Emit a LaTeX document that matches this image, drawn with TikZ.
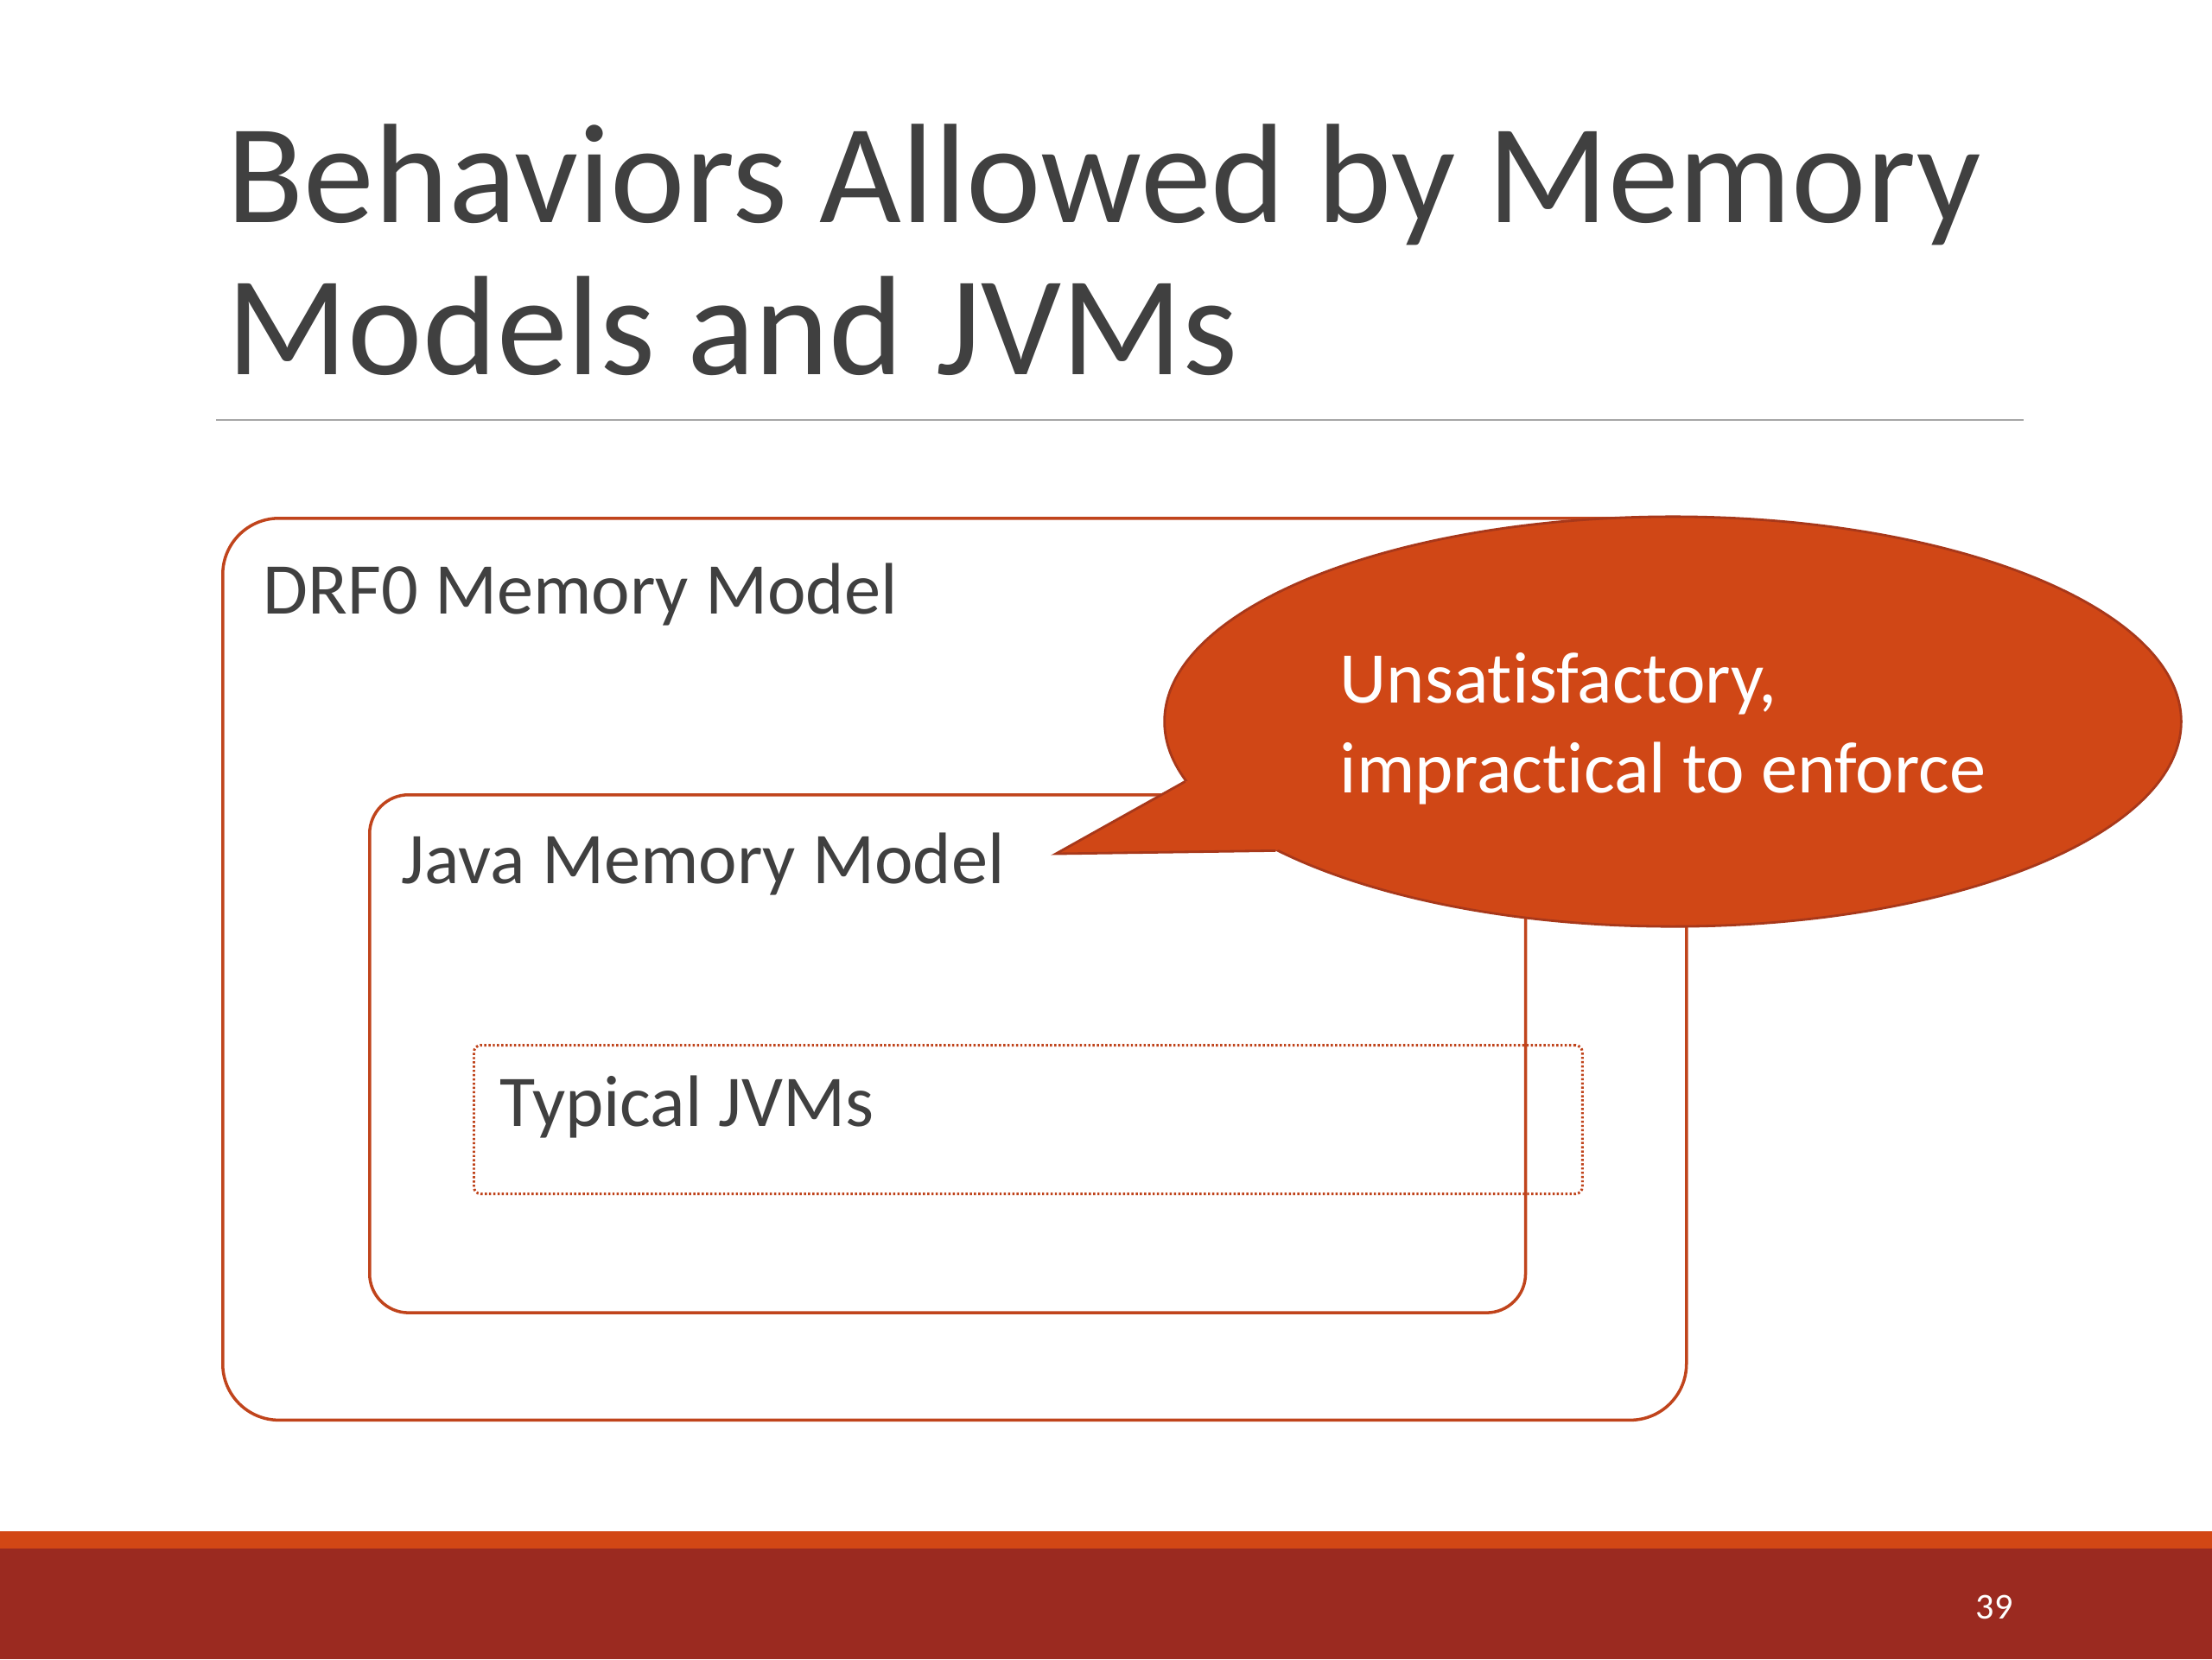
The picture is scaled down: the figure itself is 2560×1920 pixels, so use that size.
\documentclass[tikz,border=0pt]{standalone}
\usepackage{fontspec}
\setmainfont{Carlito}[Ligatures=NoCommon]
\usetikzlibrary{shapes.geometric}
\definecolor{txt}{HTML}{404040}
\definecolor{boxline}{HTML}{C0441C}
\definecolor{callfill}{HTML}{D04716}
\definecolor{callline}{HTML}{A8381A}
\definecolor{bandor}{HTML}{D24715}
\definecolor{bandred}{HTML}{9B2A20}
\definecolor{rulegray}{HTML}{A6A6A6}
\tikzset{
  box/.style={draw=boxline, line width=1pt, inner sep=0pt, anchor=north west},
  lbl/.style={anchor=base west, inner sep=0pt, text=txt, font=\fontsize{24}{29}\selectfont},
}
\begin{document}
\begin{tikzpicture}[x=0.01cm, y=-0.01cm]
\useasboundingbox (0,0) rectangle (2560,1920);
\fill[white] (0,0) rectangle (2560,1920);
% title (base anchor = last line's baseline)
\node[anchor=base west, inner sep=0pt, text=txt, align=left, font=\fontsize{46.6}{50}\selectfont] (title) at (262,433) {Behaviors Allowed by Memory\\Models and JVMs};
\coordinate (ruleL) at (250,486);
\coordinate (ruleR) at (2342,486);
\draw[rulegray, line width=0.8pt] (ruleL) -- (ruleR);
% boxes
\node[box, rounded corners=0.65cm, minimum width=16.93cm, minimum height=10.43cm] (drf) at (256,598) {};
\node[lbl] (drflbl) at (304,710) {DRF0 Memory Model};
\node[box, rounded corners=0.45cm, minimum width=13.37cm, minimum height=5.99cm] (jmm) at (426,918) {};
\node[lbl] (jmmlbl) at (464,1022) {Java Memory Model};
\node[box, rounded corners=0.08cm, line width=0.85pt, dash pattern=on 0.7pt off 0.7pt, minimum width=12.82cm, minimum height=1.72cm] (jvm) at (547,1208) {};
\node[lbl] (jvmlbl) at (578,1303) {Typical JVMs};
% callout
\node[ellipse, draw=callline, fill=callfill, line width=0.8pt, inner sep=0pt, minimum width=11.76cm, minimum height=4.74cm] (callout) at (1936,835) {};
\coordinate (tip) at (1222,988);
\fill[callfill] (tip) -- (callout.187) -- (callout.center) -- (callout.198.3) -- cycle;
\draw[callline, line width=0.8pt, line join=miter] (callout.187) -- (tip) -- (callout.198.3);
\node[anchor=base west, inner sep=0pt, text=white, align=left, font=\fontsize{24}{29.5}\selectfont] (calltext) at (1550,917) {Unsatisfactory,\\impractical to enforce};
% footer
\fill[bandor] (0,1772) rectangle (2560,1792);
\fill[bandred] (0,1792) rectangle (2560,1920);
\node[anchor=center, inner sep=0pt, text=white, font=\fontsize{12}{14}\selectfont] (pagenum) at (2308,1860) {39};
\end{tikzpicture}
\end{document}
